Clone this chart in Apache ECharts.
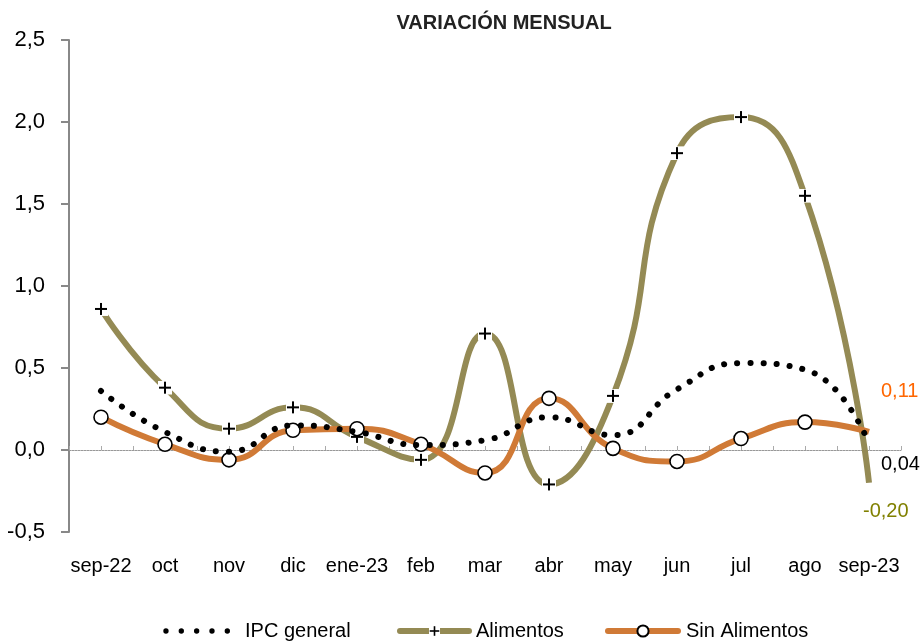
<!DOCTYPE html>
<html><head><meta charset="utf-8">
<script src="https://cdn.jsdelivr.net/npm/echarts@6/dist/echarts.min.js"></script>
<style>html,body{margin:0;padding:0;background:#fff}#c{width:923px;height:641px}</style>
</head><body><div id="c"></div>
<script>
const categories = ['sep-22','oct','nov','dic','ene-23','feb','mar','abr','may','jun','jul','ago','sep-23'];
const ipcGeneral = [0.36,0.11,-0.01,0.15,0.11,0.03,0.06,0.20,0.09,0.37,0.53,0.49,0.04];
const alimentos = [0.86,0.38,0.13,0.26,0.08,-0.06,0.71,-0.21,0.33,1.81,2.03,1.55,-0.20];
const sinAlimentos = [0.20,0.035,-0.06,0.12,0.13,0.035,-0.14,0.315,0.01,-0.07,0.07,0.17,0.11];
const seriesNames = ['IPC general','Alimentos','Sin Alimentos'];

const FONT = "'Liberation Sans',Arial,sans-serif";
const fmt = v => v.toFixed(2).replace('.', ',');
const plusSvg = '<svg xmlns="http://www.w3.org/2000/svg" width="14" height="14" viewBox="0 0 14 14">' +
  '<rect x="0" y="0" width="14" height="14" fill="#ffffff"/>' +
  '<rect x="6" y="1" width="2" height="12" fill="#000000"/>' +
  '<rect x="1" y="6" width="12" height="2" fill="#000000"/></svg>';
const plusSym = 'image://data:image/svg+xml;charset=utf-8,' + encodeURIComponent(plusSvg);
// dotted legend icon: 5 dots with invisible bbox anchors
let dotsPath = 'path://M0,0L0.01,0M0,14L0.01,14';
for (let i = 0; i < 5; i++) {
  const cx = 3 + i * 15.5;
  dotsPath += 'M' + (cx - 2.7) + ',7a2.7,2.7 0 1,0 5.4,0a2.7,2.7 0 1,0 -5.4,0';
}
function withLastNone(arr){
  return arr.map((v,i)=> i===arr.length-1 ? {value:v, symbol:'none'} : v);
}
const halfTicks = Array.from({length: categories.length*2}, ()=> '');
const legendText = {fontFamily:FONT, fontSize:20, color:'#000'};
const legendLine = {width:6, cap:'round'};

const chart = echarts.init(document.getElementById('c'), null, {renderer:'canvas'});
chart.setOption({
  animation:false,
  backgroundColor:'#ffffff',
  title:{text:'VARIACIÓN MENSUAL', left:499, textAlign:'center', top:8,
    textStyle:{fontFamily:FONT, fontWeight:'bold', fontSize:20, color:'#222'}},
  grid:{left:69, right:22, top:40, bottom:109},
  legend:[
    {top:616, left:158, itemWidth:67, itemHeight:14, itemGap:0,
     textStyle:Object.assign({padding:[0,0,0,10]}, legendText),
     itemStyle:{borderWidth:0},
     data:[{name:seriesNames[0], icon:dotsPath, itemStyle:{color:'#000', borderWidth:0}}]},
    {top:616, left:392, itemWidth:69, itemHeight:14, itemGap:0, lineStyle:legendLine,
     textStyle:Object.assign({padding:[0,0,0,2]}, legendText),
     data:[seriesNames[1]]},
    {top:616, left:600, itemWidth:70, itemHeight:14, itemGap:0, lineStyle:legendLine,
     textStyle:Object.assign({padding:[0,0,0,3]}, legendText),
     data:[seriesNames[2]]}
  ],
  xAxis:[
    {type:'category', data:categories, boundaryGap:true,
     axisLine:{show:false, onZero:false}, axisTick:{show:false},
     axisLabel:{fontFamily:FONT, fontSize:20, color:'#000', margin:24, interval:0}},
    {type:'category', data:halfTicks, boundaryGap:true, position:'bottom',
     axisLine:{show:true, onZero:true, onZeroAxisIndex:0, lineStyle:{color:'#999', type:[2,1], width:1}},
     axisTick:{show:true, inside:true, length:4, alignWithLabel:false, interval:0, lineStyle:{color:'#aaa'}},
     axisLabel:{show:false}}
  ],
  yAxis:{type:'value', min:-0.5, max:2.5, interval:0.5,
    axisLine:{show:true, lineStyle:{color:'#888', width:2}},
    axisTick:{show:true, length:8, lineStyle:{color:'#888', width:2}},
    splitLine:{show:false},
    axisLabel:{fontFamily:FONT, fontSize:22, color:'#000', margin:24, padding:[6,0,0,0],
      formatter: v => v.toFixed(1).replace('.', ',')}},
  series:[
    {name:seriesNames[1], type:'line', data:withLastNone(alimentos), smooth:0.5,
     symbol:plusSym, symbolSize:14, itemStyle:{color:'#000', borderWidth:0},
     lineStyle:{color:'#948A54', width:6},
     endLabel:{show:true, formatter:()=>fmt(alimentos[alimentos.length-1]), offset:[-14,29],
       fontFamily:FONT, fontSize:20, color:'#808000'},
     z:2},
    {name:seriesNames[2], type:'line', data:withLastNone(sinAlimentos), smooth:0.5,
     symbol:'circle', symbolSize:14, itemStyle:{color:'#fff', borderColor:'#000', borderWidth:1.6},
     lineStyle:{color:'#D07A36', width:6},
     endLabel:{show:true, formatter:()=>fmt(sinAlimentos[sinAlimentos.length-1]), offset:[4,-40],
       fontFamily:FONT, fontSize:20, color:'#FF6600'},
     z:3},
    {name:seriesNames[0], type:'line', data:ipcGeneral, smooth:0.5,
     showSymbol:false, symbol:'none', itemStyle:{color:'#000'},
     lineStyle:{color:'#000', width:6, type:[0.1,13], cap:'round'},
     endLabel:{show:true, formatter:()=>fmt(ipcGeneral[ipcGeneral.length-1]), offset:[4,21],
       fontFamily:FONT, fontSize:20, color:'#000'},
     z:4}
  ]
});
</script></body></html>
